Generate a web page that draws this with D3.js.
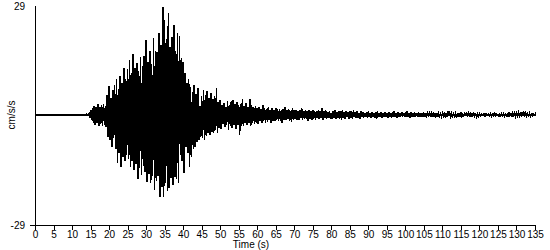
<!DOCTYPE html>
<html>
<head>
<meta charset="utf-8">
<script src="https://cdn.jsdelivr.net/npm/d3@7"></script>
<style>
    body { margin: 0; background: #fff; }
    text { font-family: "Liberation Sans", Arial, sans-serif; font-size: 10px; fill: #000; }
</style>
</head>
<body>
<svg id="chart" width="550" height="250"></svg>
<script>
// *** data ***
// flat trace before the first arrival
const quietTimes = [0, 14];
// envelope of the record every 0.5 s from startTime (cm/s/s)
const startTime = 14;
const step = 0.5;
const upper = [
    0.15, 0.3, 1.2, 1.8, 2.4, 2.0, 2.8, 2.2, 2.6, 3.0,      // 14
    2.4, 5.2, 7.6, 4.5, 6.5, 8.0, 9.4, 6.8, 10.2, 8.5,      // 19
    12.4, 9.5, 12.0, 14.6, 11.0, 16.2, 12.5, 13.8, 11.5, 15.2, // 24
    13.0, 15.5, 19.8, 14.0, 16.8, 13.5, 20.3, 17.0, 16.5, 21.6, // 29
    18.5, 28.5, 25.0, 20.0, 26.9, 18.0, 20.6, 23.7, 17.0, 21.6, // 34
    20.8, 15.0, 14.0, 11.0, 8.4, 9.5, 7.4, 6.0, 7.8, 5.5,   // 39
    7.2, 2.4, 5.0, 6.6, 5.2, 6.4, 4.5, 5.8, 4.2, 5.0,       // 44
    7.1, 3.5, 4.0, 2.6, 3.2, 2.2, 3.8, 2.5, 3.6, 4.0,       // 49
    2.8, 3.4, 2.6, 3.0, 4.2, 2.4, 3.2, 2.2, 4.1, 2.5,       // 54
    2.0, 2.4,                                               // 59
    1.8, 2.2, 1.6, 2.6, 1.9, 1.5, 2.0, 1.4, 1.8, 1.2,       // 60
    1.9, 1.5, 1.6, 1.2, 1.5, 2.0, 1.3, 1.5, 1.1, 1.8,       // 65
    1.2, 1.4, 1.0, 1.3, 1.8, 1.1, 1.3, 0.9, 1.2, 1.0,       // 70
    1.4, 1.1, 0.9, 1.3, 1.0, 1.8, 0.9, 1.2, 0.8, 1.1,       // 75
    0.5, 1.0, 1.2, 0.8, 1.1, 0.9, 1.3, 0.7, 1.0, 0.8,       // 80
    1.1, 0.9, 1.2, 0.7, 1.0, 0.6, 0.9, 0.7, 0.5, 0.8,       // 85
    1.0, 0.6, 0.8, 0.5, 0.7, 0.9, 0.6, 0.8, 0.5, 0.7,       // 90
    0.6, 0.8, 0.5, 0.7, 1.0, 0.6, 0.7, 0.5, 0.8, 0.6,       // 95
    0.7, 0.9, 0.5, 0.7, 0.6, 0.8, 0.5, 0.7, 0.6, 0.5,       // 100
    0.4, 0.6, 0.5, 0.9, 0.4, 0.5, 0.3, 0.5, 0.4, 0.3,       // 105
    0.5, 0.4, 0.6, 0.9, 0.5, 0.4, 0.3, 0.4, 0.3, 0.4,       // 110
    0.5, 0.3, 0.7, 0.8, 0.5, 0.4, 0.3, 0.4, 0.2, 0.3,       // 115
    0.4, 0.2, 0.2, 0.3, 0.2, 0.2, 0.3, 0.2, 0.4, 0.3,       // 120
    0.2, 0.3, 0.4, 0.3, 0.2, 0.3, 0.5, 0.3, 0.5, 0.6,       // 125
    0.5, 0.6, 0.4, 0.7, 0.6, 0.5, 0.3, 0.4, 0.2, 0.3,       // 130
    0.2                                                     // 135
];
const lower = [
    -0.15, -0.3, -1.4, -2.0, -2.6, -2.2, -3.0, -2.4, -2.8, -2.5,
    -3.2, -5.8, -6.6, -8.4, -6.0, -9.0, -12.7, -10.0, -13.7, -11.0,
    -12.0, -10.5, -11.5, -13.7, -12.0, -14.5, -13.0, -17.0, -14.0, -15.8,
    -13.5, -15.0, -17.7, -15.5, -18.0, -16.0, -19.8, -17.5, -16.0, -21.6,
    -19.0, -21.6, -18.0, -20.0, -19.3, -16.5, -18.5, -16.3, -17.0, -18.0,
    -10.5, -12.0, -15.3, -8.4, -10.0, -13.7, -11.0, -9.0, -8.4, -7.0,
    -6.6, -5.8, -6.0, -6.6, -5.5, -4.8, -5.2, -4.5, -4.8, -4.0,
    -4.8, -3.5, -3.8, -2.4, -3.2, -2.6, -4.0, -2.8, -3.4, -2.5,
    -3.8, -2.6, -5.3, -2.8, -3.0, -2.2, -2.6, -2.0, -2.8, -2.2,
    -2.4, -2.0,
    -2.3, -1.6, -2.0, -1.5, -2.2, -1.8, -1.4, -2.0, -1.5, -1.7,
    -1.3, -1.6, -1.5, -2.0, -1.2, -1.4, -1.1, -1.6, -1.9, -1.2,
    -1.0, -1.4, -1.2, -0.9, -1.3, -1.1, -1.0, -1.5, -0.9, -1.2,
    -1.0, -1.3, -0.8, -1.1, -0.9, -1.2, -0.8, -1.0, -0.7, -0.9,
    -1.1, -0.8, -1.0, -0.7, -0.9, -1.2, -0.8, -0.9, -0.6, -1.0,
    -0.8, -0.9, -0.6, -0.8, -0.7, -0.9, -0.5, -0.7, -0.6, -0.8,
    -0.6, -0.8, -0.5, -0.7, -0.9, -0.6, -0.5, -0.7, -0.6, -0.5,
    -0.7, -0.5, -0.8, -0.6, -0.5, -0.7, -0.6, -0.4, -0.6, -0.5,
    -0.6, -0.4, -0.7, -0.5, -0.6, -0.4, -0.5, -0.6, -0.4, -0.5,
    -0.5, -0.3, -0.6, -0.4, -0.5, -0.3, -0.4, -0.5, -0.3, -0.4,
    -0.3, -0.4, -0.5, -0.3, -0.4, -0.3, -0.2, -0.4, -0.3, -0.2,
    -0.3, -0.2, -0.3, -0.4, -0.2, -0.3, -0.2, -0.3, -0.5, -0.3,
    -0.2, -0.1, -0.2, -0.2, -0.1, -0.2, -0.3, -0.2, -0.3, -0.2,
    -0.3, -0.2, -0.1, -0.3, -0.2, -0.3, -0.2, -0.3, -0.2, -0.3,
    -0.2, -0.3, -0.2, -0.3, -0.2, -0.3, -0.2, -0.3, -0.2, -0.2,
    -0.2
];
const xTicks = [0, 5, 10, 15, 20, 25, 30, 35, 40, 45, 50, 55, 60, 65, 70,
    75, 80, 85, 90, 95, 100, 105, 110, 115, 120, 125, 130, 135];
const yLimits = [-29, 29];
const xLabel = 'Time (s)';
const yLabel = 'cm/s/s';

// *** scales ***
const svg = d3.select('#chart');
const x = d3.scaleLinear().domain([0, 135]).range([35, 535]);
const y = d3.scaleLinear().domain(yLimits).range([225, 5]);

// *** trace: zigzag between the upper and lower envelope ***
const points = quietTimes.map(t => [t, 0]);
upper.forEach((u, i) => {
    const t = startTime + i * step;
    points.push([t, u]);
    points.push([Math.min(t + step / 2, 135), lower[i]]);
});
const line = d3.line()
    .x(d => x(d[0]))
    .y(d => y(d[1]));
svg.append('path')
    .datum(points)
    .attr('d', line)
    .attr('fill', 'none')
    .attr('stroke', '#000')
    .attr('stroke-width', 1.5)
    .attr('shape-rendering', 'crispEdges');

// *** axes ***
const xAxis = svg.append('g')
    .attr('transform', `translate(0,${y(yLimits[0])})`)
    .call(d3.axisBottom(x).tickValues(xTicks).tickSize(5).tickSizeOuter(0));
const yAxis = svg.append('g')
    .attr('transform', `translate(${x(0)},0)`)
    .call(d3.axisLeft(y).tickValues([yLimits[0]]).tickSize(5).tickSizeOuter(0).tickFormat(''));
[xAxis, yAxis].forEach(g => {
    g.selectAll('path, line').attr('stroke', '#000').attr('shape-rendering', 'crispEdges');
    g.selectAll('text').attr('font-family', null).attr('font-size', null).attr('fill', '#000');
});
xAxis.selectAll('text').attr('y', 6);

// y limits as labels
svg.selectAll('.ylim')
    .data(yLimits)
    .enter()
    .append('text')
    .attr('class', 'ylim')
    .attr('x', 25)
    .attr('y', d => Math.max(y(d), 6))
    .attr('dy', '0.35em')
    .attr('text-anchor', 'end')
    .text(d => d);

svg.append('text')
    .attr('x', 251)
    .attr('y', 248)
    .attr('text-anchor', 'middle')
    .text(xLabel);
svg.append('text')
    .attr('transform', `translate(15,${y(0)}) rotate(-90)`)
    .attr('text-anchor', 'middle')
    .text(yLabel);
</script>
</body>
</html>
